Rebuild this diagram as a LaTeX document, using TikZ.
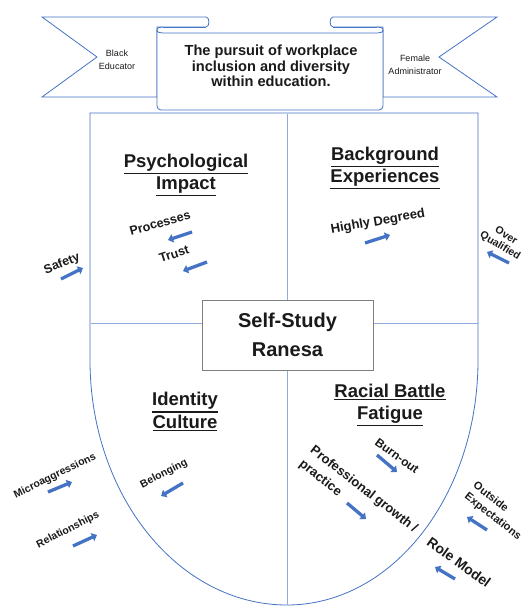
\documentclass[tikz,border=0pt]{standalone}
\usepackage{fontspec}
\setmainfont{Liberation Sans}
\usetikzlibrary{arrows.meta}
\definecolor{lineblue}{HTML}{4472C4}
\definecolor{gridblue}{HTML}{8FAADC}
\definecolor{arrowblue}{HTML}{4472C4}
\definecolor{boxgray}{HTML}{7F7F7F}
\definecolor{ink}{HTML}{1A1A1A}
% underlined heading line with a heavier rule
\newcommand\ulhead[1]{\vtop{\hbox{#1}\kern1.6pt\hrule height 1.2pt}}
\newcommand\fsz[2]{\fontsize{#1}{#2}\selectfont}
\begin{document}
\begin{tikzpicture}[x=1pt,y=-1pt,
  outline/.style={draw=lineblue, line width=0.8pt},
  grid/.style={draw=gridblue, line width=0.8pt},
  head/.style={font=\fsz{18.5}{22.5}\bfseries, align=center, text=ink, inner sep=0pt},
  lbl/.style={font=\bfseries, text=ink, inner sep=0pt},
  arr/.style={draw=arrowblue, line width=3.3pt, -{Triangle[length=5pt,width=8.5pt]}},
]
\fill[white] (0,0) rectangle (532,613);
\useasboundingbox (0,0) rectangle (532,613);

% ---- banner: two tails behind a scroll panel
\filldraw[outline, fill=white] (42,17) -- (206,17) to[out=0,in=0] (206,27) -- (157,27) -- (157,97) -- (42,97) -- (97,57) -- cycle;
\filldraw[outline, fill=white] (497,17) -- (333,17) to[out=180,in=180] (333,27) -- (383,27) -- (383,97) -- (497,97) -- (439,57) -- cycle;
\fill[white] (163,27) -- (377,27) to[out=0,in=90] (383,30) -- (383,106) to[out=-90,in=0] (379,110) -- (161,110) to[out=180,in=-90] (157,106) -- (157,30) to[out=90,in=180] cycle;
\draw[outline] (157,30) -- (157,106) to[out=-90,in=180] (161,110) -- (379,110) to[out=0,in=-90] (383,106) -- (383,30);
\draw[outline] (163,27) to[out=180,in=90] (157,30) to[out=-90,in=180] (163,33) -- (377,33) to[out=0,in=-90] (383,30) to[out=90,in=0] (377,27);
\draw[outline] (163,27) -- (206,27);
\draw[outline] (333,27) -- (377,27);

\node[font=\fsz{14.6}{15.6}\bfseries, align=center, text=ink] (title) at (271,66)
  {The pursuit of workplace\\inclusion and diversity\\within education.};
\node[font=\fsz{9}{13.5}, align=center, text=ink] (black) at (117,60) {Black\\Educator};
\node[font=\fsz{9}{13.5}, align=center, text=ink] (female) at (415,65) {Female\\Administrator};

% ---- shield with its quarter lines
\draw[outline] (90,113) -- (478,113) -- (478,360)
  .. controls (478,495.3) and (392.5,605) .. (287,605)
  .. controls (178.2,605) and (90,495.3) .. (90,360) -- cycle;
\draw[grid] (287,113.5) -- (287,604.5);
\draw[grid] (90.5,323) -- (477.5,323);

\node[draw=boxgray, line width=0.8pt, fill=white, minimum width=171pt, minimum height=70pt,
  font=\fsz{20}{29}\bfseries, align=center, text=ink] (self) at (287.5,335) {Self-Study\\Ranesa};

% ---- quadrant headings
\node[head] (psych) at (186,175) {\ulhead{Psychological}\\\ulhead{Impact}};
\node[head] (backg) at (385,168) {\ulhead{Background}\\\ulhead{Experiences}};
\node[head] (ident) at (185,412) {\ulhead{Identity}\\\ulhead{Culture}};
\node[head] (racial) at (390,405) {\ulhead{Racial Battle}\\\ulhead{Fatigue}};

% ---- labels
\node[lbl, font=\fsz{12.5}{15}\bfseries, rotate=22] (safety) at (62,264) {Safety};
\node[lbl, font=\fsz{12.5}{15}\bfseries, rotate=16] (proc) at (160,223) {Processes};
\node[lbl, font=\fsz{12.5}{15}\bfseries, rotate=18] (trust) at (174,254) {Trust};
\node[lbl, font=\fsz{13}{15}\bfseries, rotate=10] (highly) at (378,222) {Highly Degreed};
\node[lbl, font=\fsz{10.5}{12}\bfseries, rotate=-31, align=center] (overq) at (503,241) {Over\\Qualified};
\node[lbl, font=\fsz{10.5}{12}\bfseries, rotate=26] (micro) at (55,476) {Microaggressions};
\node[lbl, font=\fsz{10.5}{12}\bfseries, rotate=27] (relat) at (68,530) {Relationships};
\node[lbl, font=\fsz{10.5}{12}\bfseries, rotate=27] (belong) at (164,474) {Belonging};
\node[lbl, font=\fsz{12}{14}\bfseries, rotate=-36] (burn) at (397,456) {Burn-out};
\node[lbl, font=\fsz{13}{18}\bfseries, rotate=-38, align=left, anchor=west] (prof) at (306,456) {Professional growth /\\practice};
\node[lbl, font=\fsz{11}{14}\bfseries, rotate=-38, align=left, anchor=west] (outside) at (470,490) {Outside\\Expectations};
\node[lbl, font=\fsz{14}{16}\bfseries, rotate=-36] (role) at (459,562) {Role Model};

% ---- arrows
\coordinate (a1s) at (61,279);  \coordinate (a1e) at (83,268);
\coordinate (a2s) at (192,232); \coordinate (a2e) at (168,240);
\coordinate (a3s) at (207,262); \coordinate (a3e) at (183,271);
\coordinate (a4s) at (365,243); \coordinate (a4e) at (390,235);
\coordinate (a5s) at (509,263); \coordinate (a5e) at (487,252);
\coordinate (a6s) at (48,492);  \coordinate (a6e) at (72,482);
\coordinate (a7s) at (73,546);  \coordinate (a7e) at (97,535);
\coordinate (a8s) at (183,483); \coordinate (a8e) at (161,496);
\coordinate (a9s) at (377,455); \coordinate (a9e) at (397,472);
\coordinate (a10s) at (347,503); \coordinate (a10e) at (366,519);
\coordinate (a11s) at (487,530); \coordinate (a11e) at (467,517);
\coordinate (a12s) at (455,579); \coordinate (a12e) at (435,567);
\foreach \i in {1,...,12} {\draw[arr] (a\i s) -- (a\i e);}
\end{tikzpicture}
\end{document}
